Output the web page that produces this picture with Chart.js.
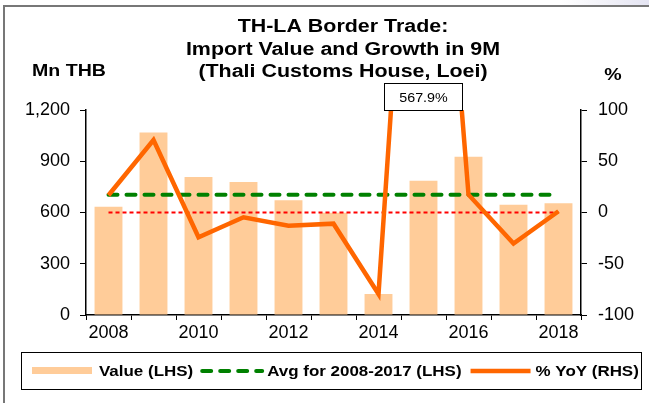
<!DOCTYPE html>
<html>
<head>
<meta charset="utf-8">
<title>TH-LA Border Trade</title>
<script src="https://cdn.jsdelivr.net/npm/chart.js@4.4.1/dist/chart.umd.min.js"></script>
<style>
  html, body { margin: 0; padding: 0; background: #fff; }
  #wrap { width: 649px; height: 403px; }
</style>
</head>
<body>
<div id="wrap"><canvas id="chart" width="649" height="403"></canvas></div>
<script>
// import value (Mn THB) and YoY growth (%), Jan-Sep of each year
const years = ['2008', '2009', '2010', '2011', '2012', '2013', '2014', '2015', '2016', '2017', '2018'];
const importValue = [634, 1069, 808, 778, 671, 599, 123, 786, 927, 646, 654];
const avgValue = [704, 704, 704, 704, 704, 704, 704, 704, 704, 704, 704];
const yoyGrowth = [16.8, 70.7, -24.2, -4.7, -12.9, -10.9, -79.5, 567.9, 17.4, -30.3, 1.2];
const zeroLine = [0, 0, 0, 0, 0, 0, 0, 0, 0, 0, 0];

const leftTicks = [0, 300, 600, 900, 1200];
const rightTicks = [-100, -50, 0, 50, 100];

const FONT = '"Liberation Sans", Arial, sans-serif';
const BAR_COLOR = '#FFCC99';
const AVG_COLOR = '#008000';
const YOY_COLOR = '#FF6600';

// text drawn a bit wider than the font's natural width
function wideText(ctx, text, x, y, align, sx) {
    ctx.save();
    ctx.translate(x, y);
    ctx.scale(sx, 1);
    ctx.textAlign = align;
    ctx.fillText(text, 0, 0);
    ctx.restore();
    return ctx.measureText(text).width * sx;
}

// frame, titles, axis units, legend and the clipped-value callout
const decorations = {
    id: 'decorations',
    beforeDraw(chart) {
        const ctx = chart.ctx;
        ctx.save();
        ctx.fillStyle = '#fff';
        ctx.fillRect(0, 0, chart.width, chart.height);
        const g = ctx.createLinearGradient(560, 0, 649, 0);
        g.addColorStop(0, 'rgba(230,230,242,0)');
        g.addColorStop(1, 'rgba(228,228,242,1)');
        ctx.fillStyle = g;
        ctx.fillRect(0, 0, chart.width, 5);
        ctx.strokeStyle = '#777';
        ctx.lineWidth = 2;
        ctx.beginPath();
        ctx.moveTo(4, chart.height);
        ctx.lineTo(4, 6);
        ctx.lineTo(chart.width, 6);
        ctx.stroke();
        ctx.restore();
    },
    afterDatasetsDraw(chart) {
        const ctx = chart.ctx;
        const x = chart.scales.x;
        const y1 = chart.scales.y1;
        ctx.save();
        yoyGrowth.forEach((v, i) => {
            if (v <= y1.max) return;
            const cx = x.getPixelForValue(i);
            const w = 79, h = 28, top = 83;
            ctx.fillStyle = '#fff';
            ctx.fillRect(cx - w / 2, top, w, h);
            ctx.strokeStyle = '#000';
            ctx.lineWidth = 1;
            ctx.strokeRect(cx - w / 2 + 0.5, top + 0.5, w - 1, h - 1);
            ctx.fillStyle = '#000';
            ctx.font = '13px ' + FONT;
            ctx.textBaseline = 'middle';
            wideText(ctx, v.toFixed(1) + '%', cx, top + h / 2 + 1, 'center', 1.1);
        });
        ctx.restore();
    },
    afterDraw(chart) {
        const ctx = chart.ctx;
        ctx.save();
        ctx.fillStyle = '#000';
        ctx.textBaseline = 'middle';
        ctx.font = 'bold 18px ' + FONT;
        wideText(ctx, 'TH-LA Border Trade:', 343, 27, 'center', 1.19);
        wideText(ctx, 'Import Value and Growth in 9M', 343, 50, 'center', 1.19);
        wideText(ctx, '(Thali Customs House, Loei)', 343, 72, 'center', 1.19);
        ctx.font = 'bold 17px ' + FONT;
        wideText(ctx, 'Mn THB', 69, 71, 'center', 1.15);
        wideText(ctx, '%', 613, 75, 'center', 1.15);

        // legend
        const top = 352, bottom = 389, cy = 371;
        ctx.strokeStyle = '#000';
        ctx.lineWidth = 1;
        ctx.strokeRect(21.5, top + 0.5, 620, bottom - top);
        ctx.font = 'bold 15px ' + FONT;
        const items = [
            { text: 'Value (LHS)', kind: 'bar' },
            { text: 'Avg for 2008-2017 (LHS)', kind: 'avg' },
            { text: '% YoY (RHS)', kind: 'yoy' }
        ];
        let lx = 32;
        items.forEach(it => {
            const sw = 62;
            if (it.kind === 'bar') {
                ctx.fillStyle = BAR_COLOR;
                ctx.fillRect(lx, cy - 4, sw - 2, 7);
            } else {
                ctx.beginPath();
                ctx.lineWidth = it.kind === 'avg' ? 4 : 4.5;
                ctx.strokeStyle = it.kind === 'avg' ? AVG_COLOR : YOY_COLOR;
                ctx.lineCap = it.kind === 'avg' ? 'round' : 'butt';
                ctx.setLineDash(it.kind === 'avg' ? [9, 9] : []);
                ctx.moveTo(lx + 2, cy);
                ctx.lineTo(lx + sw, cy);
                ctx.stroke();
                ctx.setLineDash([]);
            }
            lx += sw + 5;
            ctx.fillStyle = '#000';
            lx += wideText(ctx, it.text, lx, cy + 1, 'left', 1.13) + 7;
        });
        ctx.restore();
    }
};

new Chart(document.getElementById('chart'), {
    data: {
        labels: years,
        datasets: [
            {
                type: 'line',
                label: '% YoY (RHS)',
                data: yoyGrowth,
                yAxisID: 'y1',
                borderColor: YOY_COLOR,
                borderWidth: 4.5,
                pointRadius: 0,
                tension: 0,
                order: 1
            },
            {
                type: 'line',
                label: 'Avg for 2008-2017 (LHS)',
                data: avgValue,
                yAxisID: 'y',
                borderColor: AVG_COLOR,
                borderWidth: 4,
                borderDash: [9, 9],
                borderCapStyle: 'round',
                pointRadius: 0,
                order: 2
            },
            {
                type: 'line',
                label: 'zero',
                data: zeroLine,
                yAxisID: 'y1',
                borderColor: '#FF0000',
                borderWidth: 1.8,
                borderDash: [4, 3],
                pointRadius: 0,
                order: 3
            },
            {
                type: 'bar',
                label: 'Value (LHS)',
                data: importValue,
                yAxisID: 'y',
                backgroundColor: BAR_COLOR,
                barPercentage: 0.62,
                categoryPercentage: 1,
                order: 4
            }
        ]
    },
    options: {
        responsive: false,
        animation: false,
        layout: { padding: { top: 110, left: 0, right: 0, bottom: 0 } },
        plugins: {
            legend: { display: false },
            title: { display: false },
            tooltip: { enabled: false }
        },
        scales: {
            x: {
                offset: true,
                grid: { offset: true, drawOnChartArea: false, tickLength: 5, color: '#000' },
                border: { color: '#000', width: 1.5 },
                ticks: {
                    autoSkip: false,
                    maxRotation: 0,
                    padding: 2,
                    color: '#000',
                    font: { family: FONT, size: 18 },
                    callback: (v, i) => (i % 2 ? '' : years[i])
                },
                afterFit: s => { s.height = 88; }
            },
            y: {
                position: 'left',
                min: leftTicks[0],
                max: leftTicks[leftTicks.length - 1],
                afterBuildTicks: s => { s.ticks = leftTicks.map(v => ({ value: v })); },
                grid: { drawOnChartArea: false, tickLength: 6, color: '#000' },
                border: { color: '#000', width: 1.5 },
                ticks: {
                    padding: 10,
                    color: '#000',
                    font: { family: FONT, size: 18 },
                    callback: v => v.toLocaleString('en-US')
                },
                afterFit: s => { s.width = 86; }
            },
            y1: {
                position: 'right',
                min: rightTicks[0],
                max: rightTicks[rightTicks.length - 1],
                afterBuildTicks: s => { s.ticks = rightTicks.map(v => ({ value: v })); },
                grid: { drawOnChartArea: false, tickLength: 6, color: '#000' },
                border: { color: '#000', width: 1.5 },
                ticks: {
                    padding: 11,
                    color: '#000',
                    font: { family: FONT, size: 18 },
                    callback: v => String(v)
                },
                afterFit: s => { s.width = 68; }
            }
        }
    },
    plugins: [decorations]
});
</script>
</body>
</html>
